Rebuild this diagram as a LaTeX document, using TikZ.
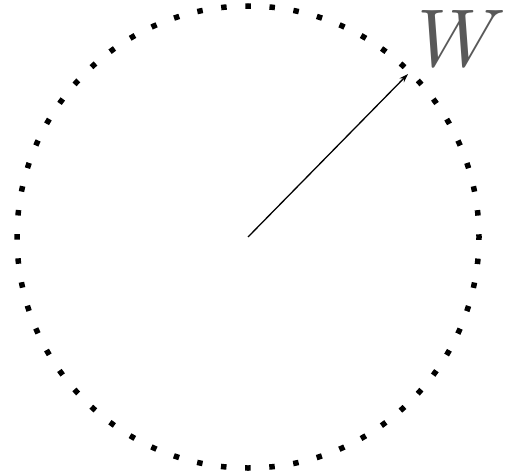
\documentclass[tikz,border=0pt]{standalone}
\usepackage{graphicx}
\usetikzlibrary{arrows.meta}
\begin{document}
\begin{tikzpicture}[x=1pt,y=1pt,
  ring/.style={line width=5.5pt,dash pattern=on 5.5pt off 18.69pt,dash phase=2.75pt},
  vec/.style={line width=1.3pt,-{Stealth[length=9pt,width=6pt]}},
  lbl/.style={text=black!65,inner sep=0pt}]
\useasboundingbox (0,0) rectangle (510,475);
\coordinate (c) at (248,238);
\draw[ring] (c) circle[radius=231];
\coordinate (tip) at (408,401);
\draw[vec] (c) -- (tip);
\node[lbl] (w) at (462,437) {\scalebox{8.2}{$W$}};
\end{tikzpicture}
\end{document}
